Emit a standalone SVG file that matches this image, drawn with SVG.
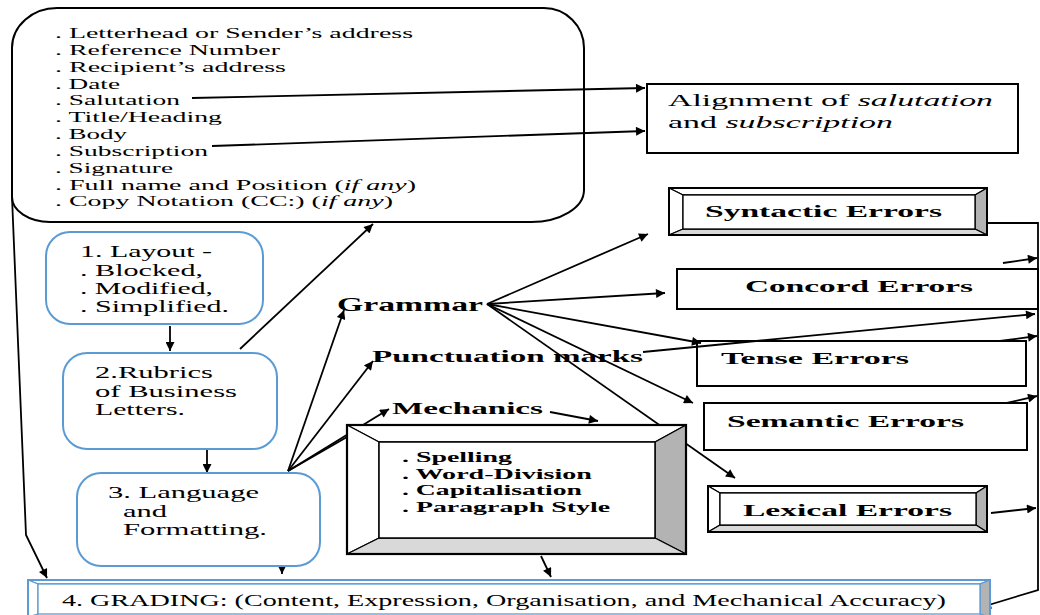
<svg xmlns="http://www.w3.org/2000/svg" width="1040" height="615" viewBox="0 0 1040 615">
<defs>
<style>
.t{font-family:"Liberation Serif","Times New Roman",serif;font-size:15.5px;fill:#000}
.tm{font-family:"Liberation Serif","Times New Roman",serif;font-size:16.5px;fill:#000}
.tb{font-family:"Liberation Serif","Times New Roman",serif;font-weight:bold;font-size:17px;fill:#000}
.tbs{font-family:"Liberation Serif","Times New Roman",serif;font-weight:bold;font-size:15px;fill:#000}
.c{fill:none;stroke:#000;stroke-width:1.8}
.ca{fill:none;stroke:#000;stroke-width:1.8;marker-end:url(#ah)}
.blue{fill:#fff;stroke:#5b9bd5;stroke-width:2}
.box{fill:none;stroke:#000;stroke-width:2}
.bw{fill:#fff;stroke:#000;stroke-width:1.3;stroke-linejoin:round}
.bg{fill:#b3b3b3;stroke:#000;stroke-width:1.3;stroke-linejoin:round}
.bl{fill:#d9d9d9;stroke:#000;stroke-width:1.3;stroke-linejoin:round}
.gw{fill:#fff;stroke:#5b9bd5;stroke-width:1.3}
.gg{fill:#b3b3b3;stroke:#5b9bd5;stroke-width:1.3}
</style>
<marker id="ah" viewBox="0 0 10 10" refX="10" refY="5" markerWidth="13" markerHeight="9" markerUnits="userSpaceOnUse" orient="auto"><path d="M0,0 L10,5 L0,10 z" fill="#000"/></marker>
</defs>
<rect width="1040" height="615" fill="#fff"/>

<g id="rubrics-list">
<path class="box" d="M57,8 H544 A40,40 0 0 1 584,48 V190 A53,32 0 0 1 531,222 H50 A38,25 0 0 1 12,197 V48 A45,40 0 0 1 57,8 Z"/>
<text class="t" x="55" y="38" textLength="358" lengthAdjust="spacingAndGlyphs">. Letterhead or Sender’s address</text>
<text class="t" x="55" y="55" textLength="225" lengthAdjust="spacingAndGlyphs">. Reference Number</text>
<text class="t" x="55" y="72" textLength="231" lengthAdjust="spacingAndGlyphs">. Recipient’s address</text>
<text class="t" x="55" y="89" textLength="65" lengthAdjust="spacingAndGlyphs">. Date</text>
<text class="t" x="55" y="105" textLength="125" lengthAdjust="spacingAndGlyphs">. Salutation</text>
<text class="t" x="55" y="122" textLength="167" lengthAdjust="spacingAndGlyphs">. Title/Heading</text>
<text class="t" x="55" y="139" textLength="72" lengthAdjust="spacingAndGlyphs">. Body</text>
<text class="t" x="55" y="156" textLength="153" lengthAdjust="spacingAndGlyphs">. Subscription</text>
<text class="t" x="55" y="173" textLength="118" lengthAdjust="spacingAndGlyphs">. Signature</text>
<text class="t" x="55" y="190" textLength="361" lengthAdjust="spacingAndGlyphs">. Full name and Position (<tspan font-style="italic">if any</tspan>)</text>
<text class="t" x="55" y="206" textLength="338" lengthAdjust="spacingAndGlyphs">. Copy Notation (CC:) (<tspan font-style="italic">if any</tspan>)</text>
</g>

<g id="connectors">
<line class="ca" x1="192" y1="98" x2="645" y2="88"/>
<line class="ca" x1="212" y1="146" x2="645" y2="131"/>
<path class="ca" d="M12,197 L26,535 L47,578"/>
<line class="ca" x1="170" y1="326" x2="170" y2="351"/>
<line class="ca" x1="207" y1="450" x2="207" y2="473"/>
<line class="ca" x1="282" y1="552" x2="282" y2="574"/>
<line class="ca" x1="240" y1="349" x2="373" y2="224"/>
<line class="ca" x1="288" y1="471" x2="344" y2="310"/>
<line class="ca" x1="288" y1="471" x2="373" y2="361"/>
<line class="ca" x1="288" y1="471" x2="389" y2="409"/>
<line class="c" x1="288" y1="471" x2="347" y2="437"/>
<line class="ca" x1="550" y1="412" x2="598" y2="421"/>
<line class="ca" x1="487" y1="304" x2="648" y2="234"/>
<line class="ca" x1="487" y1="304" x2="665" y2="293"/>
<line class="ca" x1="487" y1="304" x2="701" y2="343"/>
<line class="ca" x1="487" y1="304" x2="693" y2="403"/>
<line class="ca" x1="487" y1="304" x2="735" y2="478"/>
<line class="ca" x1="643" y1="352" x2="1035" y2="314"/>
<line class="ca" x1="541" y1="556" x2="551" y2="577"/>
<path class="ca" d="M987,223 L1038,223 L1038,590 L982,607"/>
<line class="ca" x1="1003" y1="263" x2="1037" y2="258"/>
<line class="ca" x1="1000" y1="341" x2="1037" y2="336"/>
<line class="ca" x1="1007" y1="403" x2="1037" y2="396"/>
<line class="ca" x1="991" y1="513" x2="1036" y2="508"/>
</g>

<g id="alignment">
<rect class="box" x="647" y="84" width="371" height="69"/>
<text class="tm" x="668" y="106" textLength="325" lengthAdjust="spacingAndGlyphs" style="font-size:17.5px">Alignment of <tspan font-style="italic">salutation</tspan></text>
<text class="tm" x="668" y="128" textLength="225" lengthAdjust="spacingAndGlyphs" style="font-size:17.5px">and <tspan font-style="italic">subscription</tspan></text>
</g>

<g id="layout">
<rect class="blue" x="46" y="232" width="217" height="92" rx="24"/>
<text class="tm" x="80" y="257" textLength="132" lengthAdjust="spacingAndGlyphs">1. Layout -</text>
<text class="tm" x="80" y="276" textLength="123" lengthAdjust="spacingAndGlyphs">. Blocked,</text>
<text class="tm" x="80" y="294" textLength="133" lengthAdjust="spacingAndGlyphs">. Modified,</text>
<text class="tm" x="80" y="312" textLength="149" lengthAdjust="spacingAndGlyphs">. Simplified.</text>
</g>

<g id="rubrics">
<rect class="blue" x="63" y="353" width="214" height="96" rx="24"/>
<text class="tm" x="95" y="378" textLength="118" lengthAdjust="spacingAndGlyphs">2.Rubrics</text>
<text class="tm" x="95" y="397" textLength="142" lengthAdjust="spacingAndGlyphs">of Business</text>
<text class="tm" x="95" y="415" textLength="90" lengthAdjust="spacingAndGlyphs">Letters.</text>
</g>

<g id="language">
<rect class="blue" x="77" y="473" width="243" height="93" rx="24"/>
<text class="tm" x="108" y="498" textLength="151" lengthAdjust="spacingAndGlyphs">3. Language</text>
<text class="tm" x="123" y="517" textLength="44" lengthAdjust="spacingAndGlyphs">and</text>
<text class="tm" x="123" y="535" textLength="144" lengthAdjust="spacingAndGlyphs">Formatting.</text>
</g>

<g id="grammar"><text class="tb" x="337" y="311" textLength="146" lengthAdjust="spacingAndGlyphs" style="font-size:18px">Grammar</text></g>
<g id="punctuation"><text class="tb" x="372" y="362" textLength="271" lengthAdjust="spacingAndGlyphs">Punctuation marks</text></g>
<g id="mechanics"><text class="tb" x="392" y="414" textLength="151" lengthAdjust="spacingAndGlyphs">Mechanics</text></g>

<g id="mechanics-box">
<polygon class="bw" points="347,425 686,425 655,442 379,442"/>
<polygon class="bw" points="347,425 379,442 379,538 347,554"/>
<polygon class="bg" points="686,425 686,554 655,538 655,442"/>
<polygon class="bl" points="347,554 686,554 655,538 379,538"/>
<rect x="379" y="442" width="276" height="96" fill="#fff" stroke="#000" stroke-width="1.5"/>
<rect x="347" y="425" width="339" height="129" fill="none" stroke="#000" stroke-width="2.2"/>
<text class="tbs" x="402" y="462" textLength="110" lengthAdjust="spacingAndGlyphs">. Spelling</text>
<text class="tbs" x="402" y="479" textLength="190" lengthAdjust="spacingAndGlyphs">. Word-Division</text>
<text class="tbs" x="402" y="495" textLength="180" lengthAdjust="spacingAndGlyphs">. Capitalisation</text>
<text class="tbs" x="402" y="512" textLength="208" lengthAdjust="spacingAndGlyphs">. Paragraph Style</text>
</g>

<g id="syntactic">
<polygon class="bw" points="669,188 987,188 975,195 683,195"/>
<polygon class="bw" points="669,188 683,195 683,229 669,235"/>
<polygon class="bg" points="987,188 987,235 975,229 975,195"/>
<polygon class="bl" points="669,235 987,235 975,229 683,229"/>
<rect x="683" y="195" width="292" height="34" fill="#fff" stroke="#000" stroke-width="1.3"/>
<rect x="669" y="188" width="318" height="47" fill="none" stroke="#000" stroke-width="2"/>
<text class="tb" x="705" y="217" textLength="237" lengthAdjust="spacingAndGlyphs">Syntactic Errors</text>
</g>

<g id="concord">
<rect class="box" x="677" y="269" width="361" height="40"/>
<text class="tb" x="745" y="292" textLength="228" lengthAdjust="spacingAndGlyphs">Concord Errors</text>
</g>

<g id="tense">
<rect class="box" x="697" y="341" width="329" height="45"/>
<text class="tb" x="721" y="364" textLength="188" lengthAdjust="spacingAndGlyphs">Tense Errors</text>
</g>

<g id="semantic">
<rect class="box" x="704" y="403" width="323" height="47"/>
<text class="tb" x="727" y="427" textLength="237" lengthAdjust="spacingAndGlyphs">Semantic Errors</text>
</g>

<g id="lexical">
<polygon class="bw" points="708,486 987,486 976,493 720,493"/>
<polygon class="bw" points="708,486 720,493 720,525 708,532"/>
<polygon class="bg" points="987,486 987,532 976,525 976,493"/>
<polygon class="bl" points="708,532 987,532 976,525 720,525"/>
<rect x="720" y="493" width="256" height="32" fill="#fff" stroke="#000" stroke-width="1.3"/>
<rect x="708" y="486" width="279" height="46" fill="none" stroke="#000" stroke-width="2"/>
<text class="tb" x="743" y="516" textLength="209" lengthAdjust="spacingAndGlyphs">Lexical Errors</text>
</g>

<g id="grading">
<polygon class="gw" points="28,580 990,580 980,584 38,584"/>
<polygon class="gw" points="28,580 38,584 38,614 28,617"/>
<polygon class="gg" points="990,580 990,617 980,614 980,584"/>
<rect x="38" y="584" width="942" height="30" fill="#fff" stroke="#5b9bd5" stroke-width="1.3"/>
<rect x="28" y="580" width="962" height="37" fill="none" stroke="#5b9bd5" stroke-width="2"/>
<text class="tm" x="62" y="606" textLength="884" lengthAdjust="spacingAndGlyphs" style="font-size:17.5px">4. GRADING: (Content, Expression, Organisation, and Mechanical Accuracy)</text>
</g>
</svg>
